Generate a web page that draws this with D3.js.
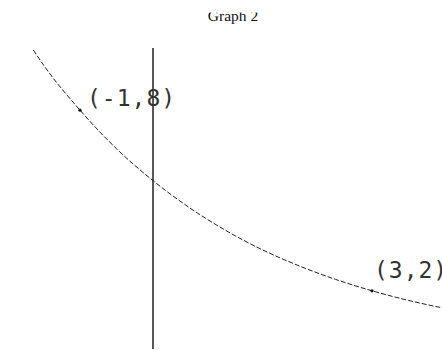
<!DOCTYPE html>
<html>
<head>
<meta charset="utf-8">
<script src="https://cdn.jsdelivr.net/npm/d3@7"></script>
<style>
  html, body { margin: 0; padding: 0; background: #fff; }
  #chart { width: 442px; height: 350px; overflow: hidden; }
</style>
</head>
<body>
<div id="chart"></div>
<script>
// Graph 2 – decreasing exponential through (-1,8) and (3,2)
const TITLE = "Graph 2";

// points (x, y)
const curveX = [-1.64, -1.5, -1, -0.5, 0, 0.5, 1, 1.5, 2, 2.5, 3, 3.5, 3.95];
const curveY = [10.0, 9.5, 8.0, 6.72, 5.66, 4.76, 4.0, 3.36, 2.83, 2.38, 2.0, 1.68, 1.44];

// marked points
const markX = [-1, 3];
const markY = [8, 2];
const markLabels = ["(-1,8)", "(3,2)"];

const width = 442, height = 350;

const x = d3.scaleLinear().domain([-2.096, 3.959]).range([0, width]);
const y = d3.scaleLinear().domain([0, 11.66]).range([351, 0]);

const svg = d3.select("#chart").append("svg")
  .attr("width", width)
  .attr("height", height);

// title, top cut off like the scan
svg.append("clipPath").attr("id", "tclip")
  .append("rect").attr("x", 0).attr("y", 12.5).attr("width", width).attr("height", 30);

svg.append("text")
  .attr("clip-path", "url(#tclip)")
  .attr("x", 233).attr("y", 21)
  .attr("text-anchor", "middle")
  .attr("font-family", "Liberation Serif, serif")
  .attr("font-size", 15.5)
  .attr("fill", "#111")
  .text(TITLE);

// y axis (vertical line at x = 0)
svg.append("line")
  .attr("x1", x(0)).attr("x2", x(0))
  .attr("y1", 48).attr("y2", 349)
  .attr("stroke", "#111")
  .attr("stroke-width", 1.4);

// the curve
const pts = curveX.map((v, i) => [v, curveY[i]]);
svg.append("path")
  .datum(pts)
  .attr("fill", "none")
  .attr("stroke", "#222")
  .attr("stroke-width", 1)
  .attr("stroke-dasharray", "5,2")
  .attr("d", d3.line().x(d => x(d[0])).y(d => y(d[1])).curve(d3.curveMonotoneX));

// marked points
const marks = markX.map((v, i) => ({ x: v, y: markY[i], label: markLabels[i] }));
svg.append("g").selectAll("circle")
  .data(marks).join("circle")
  .attr("cx", d => x(d.x))
  .attr("cy", d => y(d.y))
  .attr("r", 1.6)
  .attr("fill", "#111");

// labels: the right one runs off the edge as in the scan
const off = [[7, -4], [2, -13]];
svg.append("g").selectAll("text")
  .data(marks).join("text")
  .attr("x", (d, i) => x(d.x) + off[i][0])
  .attr("y", (d, i) => y(d.y) + off[i][1])
  .attr("font-family", "DejaVu Sans Mono, monospace")
  .attr("font-size", 23)
  .attr("letter-spacing", 1)
  .attr("fill", "#333")
  .text(d => d.label);
</script>
</body>
</html>
